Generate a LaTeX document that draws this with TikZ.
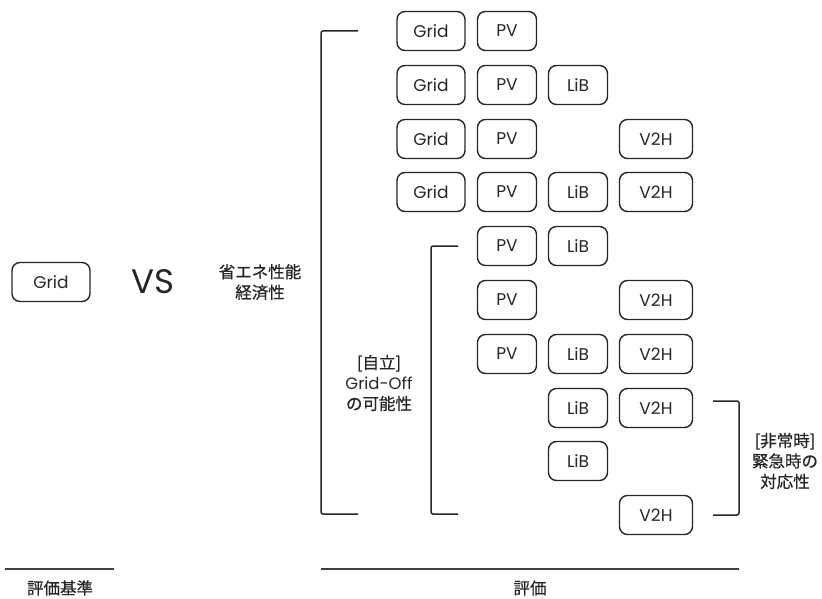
\documentclass[tikz,border=0pt]{standalone}
\usepackage{fontspec}
\setmainfont{Poppins}
\newfontfamily\jp[AutoFakeBold=0.6]{Noto Sans CJK JP}
\usetikzlibrary{positioning}
\tikzset{
  box/.style={draw=black!85, line width=1.4pt, rounded corners=8pt, minimum height=39pt, inner sep=0pt, text=black!85, font=\fontsize{17}{19}\selectfont},
  gridbox/.style={box, minimum width=68pt},
  pvbox/.style={box, minimum width=59pt},
  libbox/.style={box, minimum width=59pt},
  v2hbox/.style={box, minimum width=73pt},
  brk/.style={draw=black!85, line width=1.5pt, rounded corners=2pt},
  lbl/.style={align=center, text=black!85, inner sep=0pt, font=\jp\bfseries\fontsize{16.5}{20.5}\selectfont},
  baseline/.style={draw=black!75, line width=2pt}
}

\begin{document}
\begin{tikzpicture}[x=1pt, y=-1pt]
  \useasboundingbox (0,0) rectangle (822,599);

  % Reference
  \node[box, minimum width=78pt] (ref) at (51,282) {Grid};
  \node[font=\fontsize{34}{36}\selectfont, text=black!85] (vs) at (153,282) {VS};
  \node[lbl] (eco) at (260,282) {省エネ性能\\経済性};

  % Grid-connected combinations
  \node[gridbox] (g1) at (431,31) {Grid};
  \node[pvbox] (p1) at (507,31) {PV};

  \node[gridbox] (g2) at (431,85) {Grid};
  \node[pvbox] (p2) at (507,85) {PV};
  \node[libbox] (l2) at (578,85) {LiB};

  \node[gridbox] (g3) at (431,139) {Grid};
  \node[pvbox] (p3) at (507,139) {PV};
  \node[v2hbox] (v3) at (656,139) {V2H};

  \node[gridbox] (g4) at (431,192) {Grid};
  \node[pvbox] (p4) at (507,192) {PV};
  \node[libbox] (l4) at (578,192) {LiB};
  \node[v2hbox] (v4) at (656,192) {V2H};

  % Grid-off combinations
  \node[pvbox] (p5) at (507,246) {PV};
  \node[libbox] (l5) at (578,246) {LiB};

  \node[pvbox] (p6) at (507,300) {PV};
  \node[v2hbox] (v6) at (656,300) {V2H};

  \node[pvbox] (p7) at (507,354) {PV};
  \node[libbox] (l7) at (578,354) {LiB};
  \node[v2hbox] (v7) at (656,354) {V2H};

  % Emergency combinations
  \node[libbox] (l8) at (578,408) {LiB};
  \node[v2hbox] (v8) at (656,408) {V2H};

  \node[libbox] (l9) at (578,461) {LiB};

  \node[v2hbox] (v10) at (656,515) {V2H};

  % Brackets
  \coordinate (b1t) at (358,31);
  \coordinate (b1b) at (358,514);
  \draw[brk] (b1t) -| ([xshift=-37pt]b1b) -- (b1b);

  \coordinate (b2t) at (458,246);
  \coordinate (b2b) at (458,514);
  \draw[brk] (b2t) -| ([xshift=-27pt]b2b) -- (b2b);
  \node[lbl] (off) at (379,383) {[自立]\\{\rmfamily\mdseries\fontsize{16.5}{20.5}\selectfont Grid-Off}\\の可能性};

  \coordinate (b3t) at (713,401);
  \coordinate (b3b) at (713,515);
  \draw[brk] (b3t) -| ([xshift=26pt]b3b) -- (b3b);
  \node[lbl] (emg) at (785,461) {[非常時]\\緊急時の\\対応性};

  % Bottom captions
  \coordinate (r1a) at (5,569);
  \coordinate (r1b) at (114,569);
  \draw[baseline] (r1a) -- (r1b);
  \node[lbl] (crit) at (60,588) {評価基準};

  \coordinate (r2a) at (321,569);
  \coordinate (r2b) at (739,569);
  \draw[baseline] (r2a) -- (r2b);
  \node[lbl] (eval) at (530,588) {評価};
\end{tikzpicture}
\end{document}
